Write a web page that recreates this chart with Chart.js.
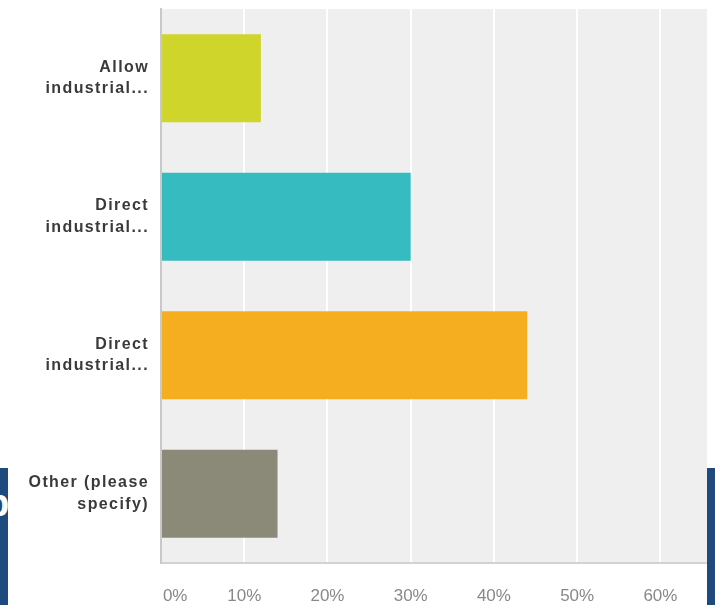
<!DOCTYPE html>
<html>
<head>
<meta charset="utf-8">
<script src="https://cdn.jsdelivr.net/npm/chart.js@4/dist/chart.umd.min.js"></script>
<style>
  html, body { margin: 0; padding: 0; background: #ffffff; overflow: hidden; }
  #wrap { position: relative; width: 715px; height: 605px; }
  canvas { position: absolute; left: 0; top: 0; }
  .edge { position: absolute; background: #1f4a7e; overflow: hidden; }
  .edge span { position: absolute; color: #ffffff; font: bold 38px "Liberation Sans", Arial, sans-serif; line-height: 1; }
</style>
</head>
<body>
<div id="wrap">
  <canvas id="chart" width="715" height="605"></canvas>
  <div class="edge" style="left:0; top:468px; width:8px; height:137px;"><span style="left:-14px; top:16px;">p</span></div>
  <div class="edge" style="left:707px; top:468px; width:8px; height:137px;"></div>
</div>
<script>
// Answer options (wrapped onto two lines) and their share of responses, in percent
const categories = [
  ['Allow', 'industrial...'],
  ['Direct', 'industrial...'],
  ['Direct', 'industrial...'],
  ['Other (please', 'specify)']
];
const percentages = [12, 30, 44, 14];
const barColors = ['#cfd52a', '#36bbc0', '#f5ae1f', '#8b8a79'];
const tickValues = [0, 10, 20, 30, 40, 50, 60];
const axisMax = 65.6;

// Grey plot background plus wider letter spacing for the category labels
const plotStyle = {
  id: 'plotStyle',
  beforeDraw(chart) {
    const { ctx, chartArea: a } = chart;
    ctx.save();
    ctx.fillStyle = '#efefef';
    ctx.fillRect(a.left, a.top, a.right - a.left, a.bottom - a.top);
    ctx.restore();
    ctx.letterSpacing = '0px';
  },
  afterDatasetsDraw(chart) {
    chart.ctx.letterSpacing = '1.4px';
  },
  afterDraw(chart) {
    chart.ctx.letterSpacing = '0px';
  }
};

new Chart(document.getElementById('chart'), {
  type: 'bar',
  data: {
    labels: categories,
    datasets: [{
      data: percentages,
      backgroundColor: barColors,
      borderWidth: 0,
      categoryPercentage: 1,
      barPercentage: 0.635
    }]
  },
  options: {
    indexAxis: 'y',
    responsive: false,
    devicePixelRatio: 1,
    animation: false,
    layout: { padding: { top: 9, right: 8, left: 0, bottom: 0 } },
    plugins: { legend: { display: false }, tooltip: { enabled: false } },
    scales: {
      x: {
        min: 0,
        max: axisMax,
        afterBuildTicks(scale) {
          scale.ticks = tickValues.map(v => ({ value: v }));
        },
        afterFit(scale) {
          scale.height = 42;
          scale.paddingLeft = 0;
          scale.paddingRight = 0;
        },
        grid: { color: '#ffffff', lineWidth: 2, drawTicks: false },
        border: { color: '#d2d2d2', width: 2 },
        ticks: {
          color: '#888888',
          font: { family: '"Liberation Sans", Arial, sans-serif', size: 17 },
          padding: 23,
          maxRotation: 0,
          autoSkip: false,
          callback: v => (v === 0 ? '      0%' : v + '%')
        }
      },
      y: {
        afterFit(scale) {
          scale.width = 161;
          scale.paddingTop = 0;
          scale.paddingBottom = 0;
        },
        grid: { display: false, drawTicks: false },
        border: { color: '#c9c9c9', width: 2 },
        ticks: {
          z: 1,
          color: '#3a3a3a',
          padding: 12,
          font: { family: '"Liberation Sans", Arial, sans-serif', size: 16, weight: 'bold', lineHeight: 1.35 }
        }
      }
    }
  },
  plugins: [plotStyle]
});
</script>
</body>
</html>
